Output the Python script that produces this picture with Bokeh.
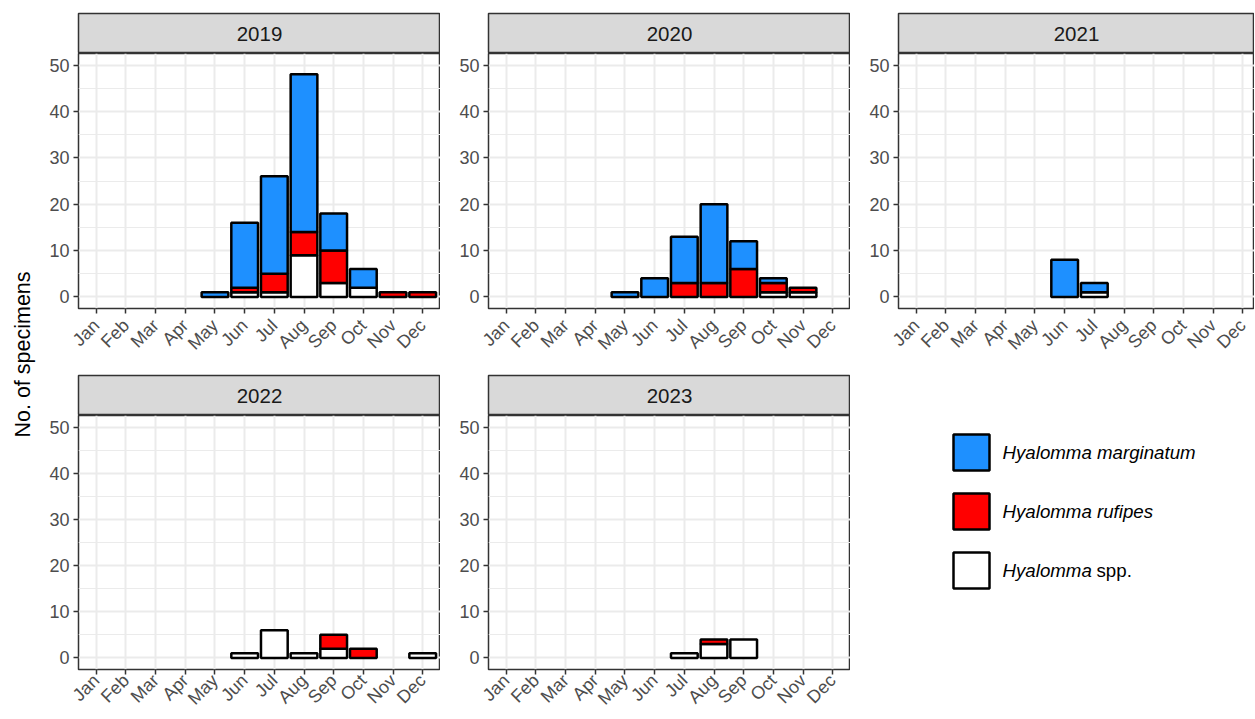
import math
from bokeh.plotting import figure
from bokeh.layouts import row, column
from bokeh.models import Range1d, FixedTicker
from bokeh.core.properties import value
from bokeh.embed import file_html
from bokeh.resources import INLINE

months = ["Jan", "Feb", "Mar", "Apr", "May", "Jun", "Jul", "Aug", "Sep", "Oct", "Nov", "Dec"]
years = ["2019", "2020", "2021", "2022", "2023"]

marginatum_2019 = [0, 0, 0, 0, 1, 14, 21, 34, 8, 4, 0, 0]
rufipes_2019    = [0, 0, 0, 0, 0, 1, 4, 5, 7, 0, 1, 1]
spp_2019        = [0, 0, 0, 0, 0, 1, 1, 9, 3, 2, 0, 0]

marginatum_2020 = [0, 0, 0, 0, 1, 4, 10, 17, 6, 1, 0, 0]
rufipes_2020    = [0, 0, 0, 0, 0, 0, 3, 3, 6, 2, 1, 0]
spp_2020        = [0, 0, 0, 0, 0, 0, 0, 0, 0, 1, 1, 0]

marginatum_2021 = [0, 0, 0, 0, 0, 8, 2, 0, 0, 0, 0, 0]
rufipes_2021    = [0, 0, 0, 0, 0, 0, 0, 0, 0, 0, 0, 0]
spp_2021        = [0, 0, 0, 0, 0, 0, 1, 0, 0, 0, 0, 0]

marginatum_2022 = [0, 0, 0, 0, 0, 0, 0, 0, 0, 0, 0, 0]
rufipes_2022    = [0, 0, 0, 0, 0, 0, 0, 0, 3, 2, 0, 0]
spp_2022        = [0, 0, 0, 0, 0, 1, 6, 1, 2, 0, 0, 1]

marginatum_2023 = [0, 0, 0, 0, 0, 0, 0, 0, 0, 0, 0, 0]
rufipes_2023    = [0, 0, 0, 0, 0, 0, 0, 1, 0, 0, 0, 0]
spp_2023        = [0, 0, 0, 0, 0, 0, 1, 3, 4, 0, 0, 0]

series_names = ["Hyalomma marginatum", "Hyalomma rufipes", "Hyalomma spp."]
y_ticks = [0, 10, 20, 30, 40, 50]

data = {
    "2019": (spp_2019, rufipes_2019, marginatum_2019),
    "2020": (spp_2020, rufipes_2020, marginatum_2020),
    "2021": (spp_2021, rufipes_2021, marginatum_2021),
    "2022": (spp_2022, rufipes_2022, marginatum_2022),
    "2023": (spp_2023, rufipes_2023, marginatum_2023),
}
stack_colors = ["#FFFFFF", "#FF0000", "#1E90FF"]  # bottom -> top

FONT = "Liberation Sans"
TICK_COL = "#4D4D4D"
BORDER_COL = "#333333"
GRID_COL = "#EBEBEB"


def strip_fig(label, width, left, frame_w, top_pad):
    s = figure(width=width, height=40 + top_pad, x_range=Range1d(0, 1), y_range=Range1d(0, 1),
               toolbar_location=None, output_backend="svg",
               min_border_left=left, min_border_right=width - left - frame_w,
               min_border_top=top_pad, min_border_bottom=0)
    s.axis.visible = False
    s.grid.visible = False
    s.background_fill_color = "#D9D9D9"
    s.border_fill_color = "white"
    s.outline_line_color = BORDER_COL
    s.outline_line_width = 1.5
    s.text(x=[0.5], y=[0.5], text=[label], text_align="center", text_baseline="middle",
           text_font=value(FONT), text_font_size="20.5px", text_color="#1A1A1A")
    return s


def panel_fig(year, width, left, frame_w, height, bottom, x_end, x_standoff):
    p = figure(width=width, height=height, x_range=Range1d(0.4, x_end), y_range=Range1d(-2.5, 52.5),
               toolbar_location=None, output_backend="svg",
               min_border_left=left, min_border_right=width - left - frame_w,
               min_border_top=0, min_border_bottom=bottom)
    p.background_fill_color = "white"
    p.border_fill_color = "white"
    p.outline_line_color = BORDER_COL
    p.outline_line_width = 1.5

    p.xaxis.ticker = FixedTicker(ticks=list(range(1, 13)))
    p.xaxis.major_label_overrides = {i + 1: m for i, m in enumerate(months)}
    p.xaxis.major_label_orientation = math.pi / 4
    p.yaxis.ticker = FixedTicker(ticks=y_ticks, minor_ticks=[5, 15, 25, 35, 45])
    for ax in (p.xaxis, p.yaxis):
        ax.axis_line_color = None
        ax.major_tick_line_color = BORDER_COL
        ax.major_tick_line_width = 1.5
        ax.major_tick_out = 5
        ax.major_tick_in = 0
        ax.minor_tick_line_color = None
        ax.major_label_text_font = FONT
        ax.major_label_text_font_size = "18px"
        ax.major_label_text_color = TICK_COL
    p.yaxis.major_label_standoff = 4
    p.xaxis.major_label_standoff = x_standoff

    p.xgrid.grid_line_color = GRID_COL
    p.xgrid.grid_line_width = 2
    p.ygrid.grid_line_color = GRID_COL
    p.ygrid.grid_line_width = 2
    p.ygrid.minor_grid_line_color = GRID_COL
    p.ygrid.minor_grid_line_width = 1

    layers = data[year]
    base = [0] * 12
    for vals, col in zip(layers, stack_colors):
        xs, bots, tops = [], [], []
        for i, v in enumerate(vals):
            if v > 0:
                xs.append(i + 1)
                bots.append(base[i])
                tops.append(base[i] + v)
        base = [b + v for b, v in zip(base, vals)]
        if xs:
            p.vbar(x=xs, bottom=bots, top=tops, width=0.9, fill_color=col,
                   line_color="black", line_width=2.5)
    return p


FW = 362
FW3 = 356
X_END_FULL = 12.6
X_END_CLIP = 0.4 + FW3 * 12.2 / FW

# row 1
s1 = strip_fig("2019", 402, 40, FW, 13)
p1 = panel_fig("2019", 402, 40, FW, 321, 66, X_END_FULL, 9)
s2 = strip_fig("2020", 410, 48, FW, 13)
p2 = panel_fig("2020", 410, 48, FW, 321, 66, X_END_FULL, 9)
s3 = strip_fig("2021", 404, 48, FW3, 13)
p3 = panel_fig("2021", 404, 48, FW3, 321, 66, X_END_CLIP, 9)

# row 2
s4 = strip_fig("2022", 402, 40, FW, 1)
p4 = panel_fig("2022", 402, 40, FW, 303, 48, X_END_FULL, 3)
s5 = strip_fig("2023", 410, 48, FW, 1)
p5 = panel_fig("2023", 410, 48, FW, 303, 48, X_END_FULL, 3)

# legend panel (coordinates in pixels of this panel, y downwards)
leg = figure(width=404, height=344, x_range=Range1d(0, 404), y_range=Range1d(344, 0),
             toolbar_location=None, output_backend="svg", min_border=0)
leg.axis.visible = False
leg.grid.visible = False
leg.outline_line_color = None
leg.background_fill_color = "white"
leg.border_fill_color = "white"
key_colors = ["#1E90FF", "#FF0000", "#FFFFFF"]
key_y = [78, 137, 196]
leg.rect(x=[121] * 3, y=key_y, width=36, height=36, fill_color=key_colors,
         line_color="black", line_width=2.5)
leg.text(x=[152, 152], y=key_y[:2], text=series_names[:2], text_baseline="middle",
         text_font=value(FONT), text_font_size="18.7px", text_font_style="italic", text_color="black")
leg.text(x=[152], y=[key_y[2]], text=["Hyalomma"], text_baseline="middle",
         text_font=value(FONT), text_font_size="18.7px", text_font_style="italic", text_color="black")
leg.text(x=[246], y=[key_y[2]], text=["spp."], text_baseline="middle",
         text_font=value(FONT), text_font_size="18.7px", text_color="black")

# y-axis title
yt = figure(width=38, height=718, x_range=Range1d(0, 38), y_range=Range1d(718, 0),
            toolbar_location=None, output_backend="svg", min_border=0)
yt.axis.visible = False
yt.grid.visible = False
yt.outline_line_color = None
yt.background_fill_color = "white"
yt.border_fill_color = "white"
yt.text(x=[22], y=[354], text=["No. of specimens"], angle=math.pi / 2,
        text_align="center", text_baseline="middle",
        text_font=value(FONT), text_font_size="21.5px", text_color="black")

grid = column(
    row(column(s1, p1), column(s2, p2), column(s3, p3)),
    row(column(s4, p4), column(s5, p5), leg),
)
layout = row(yt, grid)

open("out.html", "w").write(file_html(layout, INLINE))
